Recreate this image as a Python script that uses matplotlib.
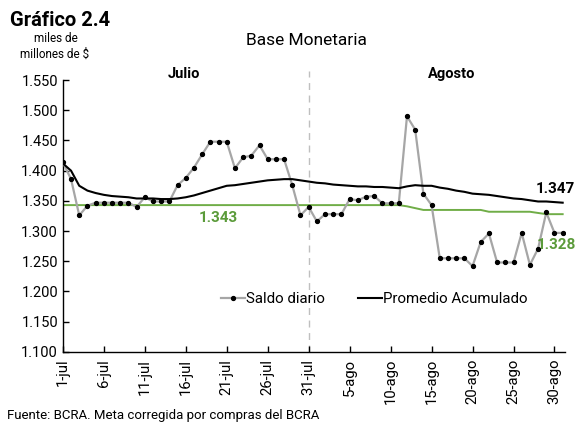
import numpy as np
import matplotlib.pyplot as plt
from matplotlib.ticker import FuncFormatter

plt.rcParams['font.family'] = ['Roboto', 'DejaVu Sans']

# === DATOS ===
dias = np.arange(62)  # 1-jul ... 31-ago
saldo_diario = [
    1.414, 1.386, 1.326, 1.342, 1.347, 1.347, 1.347, 1.347, 1.347, 1.340,
    1.356, 1.349, 1.349, 1.349, 1.376, 1.388, 1.405, 1.427, 1.448, 1.448,
    1.448, 1.404, 1.422, 1.425, 1.442, 1.419, 1.419, 1.419, 1.376, 1.326,
    1.340, 1.316, 1.328, 1.328, 1.328, 1.353, 1.351, 1.357, 1.358, 1.346,
    1.346, 1.346, 1.490, 1.468, 1.362, 1.343, 1.255, 1.255, 1.255, 1.255,
    1.242, 1.282, 1.296, 1.248, 1.248, 1.248, 1.297, 1.244, 1.271, 1.331,
    1.297, 1.297,
]
promedio_acum = [
    1.412, 1.400, 1.375, 1.367, 1.363, 1.360, 1.358, 1.357, 1.356, 1.354,
    1.354, 1.354, 1.353, 1.353, 1.354, 1.356, 1.359, 1.363, 1.367, 1.371,
    1.375, 1.376, 1.378, 1.380, 1.382, 1.384, 1.385, 1.386, 1.386, 1.384,
    1.382, 1.380, 1.379, 1.377, 1.376, 1.375, 1.374, 1.374, 1.373, 1.373,
    1.372, 1.371, 1.374, 1.376, 1.375, 1.375, 1.372, 1.370, 1.367, 1.365,
    1.362, 1.361, 1.360, 1.358, 1.356, 1.354, 1.353, 1.351, 1.349, 1.349,
    1.348, 1.347,
]
meta = [1.343] * 42 + [1.341, 1.338] + [1.335] * 8 + [1.332] * 6 + [1.330] + [1.328] * 3

tick_dias = list(range(0, 61, 5))
tick_labels = ['1-jul', '6-jul', '11-jul', '16-jul', '21-jul', '26-jul', '31-jul',
               '5-ago', '10-ago', '15-ago', '20-ago', '25-ago', '30-ago']

fig = plt.figure(figsize=(5.82, 4.26), dpi=100)
ax = fig.add_axes([0.108, 0.174, 0.863, 0.638])

# === SERIES ===
ax.plot(dias, meta, color='#70AD47', lw=1.4, zorder=2)
ax.plot(dias, saldo_diario, color='#A6A6A6', lw=1.6, marker='o', ms=2.8,
        mfc='black', mec='black', label='Saldo diario', zorder=3)
ax.plot(dias, promedio_acum, color='black', lw=1.5, label='Promedio Acumulado', zorder=4)

# linea divisoria julio / agosto
ax.plot([30, 30], [1.100, 1.565], color='#BFBFBF', lw=1, ls=(0, (5, 4)),
        clip_on=False, zorder=1)

# === EJES ===
ax.set_xlim(0, 61.3)
ax.set_ylim(1.100, 1.550)
ax.set_yticks(np.arange(1.100, 1.5501, 0.050))
ax.yaxis.set_major_formatter(FuncFormatter(lambda v, p: f'{v:.3f}'))
ax.set_xticks(tick_dias)
ax.set_xticklabels(tick_labels, rotation=90)
ax.tick_params(axis='both', direction='in', length=4, width=1, colors='black',
               labelsize=10.5)
ax.tick_params(axis='x', labelsize=10.7, pad=5)
for s in ['top', 'right']:
    ax.spines[s].set_visible(False)
for s in ['left', 'bottom']:
    ax.spines[s].set_linewidth(1)

# === TEXTOS ===
ax.text(14.8, 1.560, 'Julio', ha='center', va='center', fontsize=10.5, fontweight='bold')
ax.text(47.5, 1.560, 'Agosto', ha='center', va='center', fontsize=10.5, fontweight='bold')
ax.text(62.5, 1.370, '1.347', ha='right', va='center', fontsize=11, fontweight='bold',
        clip_on=False)
ax.text(62.6, 1.277, '1.328', ha='right', va='center', fontsize=11, fontweight='bold',
        color='#5B9B3A', clip_on=False)
ax.text(19, 1.321, '1.343', ha='center', va='center', fontsize=11, fontweight='bold',
        color='#5B9B3A')

ax.legend(loc='center', bbox_to_anchor=(0.62, 0.195), ncol=2, frameon=False,
          fontsize=10.8, handlelength=1.6, handletextpad=0.1, columnspacing=2.2)

fig.text(0.018, 0.952, 'Gráfico 2.4', fontsize=14.5, fontweight='bold', va='center')
fig.text(0.527, 0.905, 'Base Monetaria', fontsize=12.5, ha='center', va='center')
fig.text(0.096, 0.910, 'miles de', fontsize=8.5, ha='center', va='center')
fig.text(0.094, 0.872, 'millones de $', fontsize=8.5, ha='center', va='center')
fig.text(0.012, 0.025, 'Fuente: BCRA. Meta corregida por compras del BCRA',
         fontsize=9.5, va='center')

fig.savefig('out.png', dpi=100)
